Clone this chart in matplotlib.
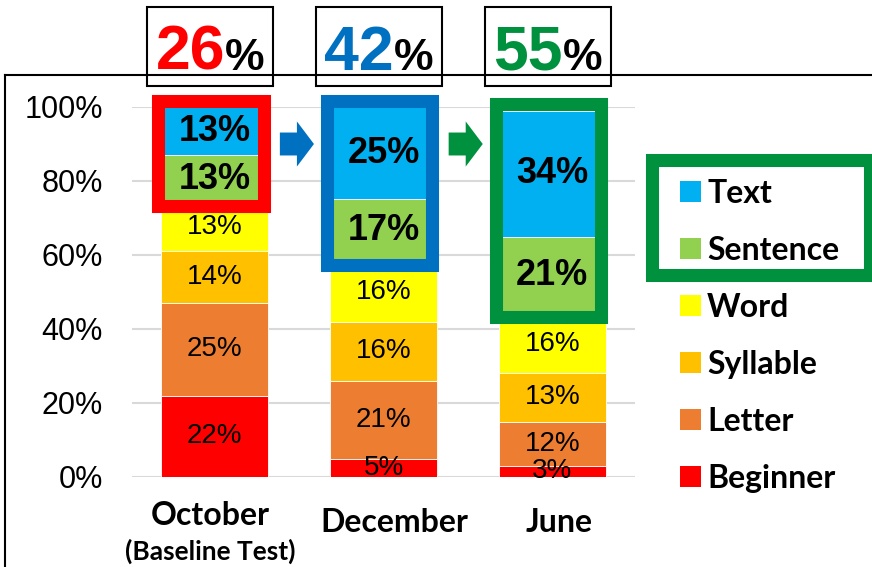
import numpy as np
import matplotlib.pyplot as plt
from matplotlib.patches import Rectangle, Polygon
from matplotlib.lines import Line2D
from matplotlib.font_manager import FontProperties

months = ['October', 'December', 'June']
sub_label = '(Baseline Test)'
levels = ['Beginner', 'Letter', 'Syllable', 'Word', 'Sentence', 'Text']
beginner = [22, 5, 3]
letter = [25, 21, 12]
syllable = [14, 16, 13]
word = [13, 16, 16]
sentence = [13, 17, 21]
text = [13, 25, 34]
top_two = [26, 42, 55]
yticks = [0, 20, 40, 60, 80, 100]

colors = ['#FF0000', '#ED7D31', '#FFC000', '#FFFF00', '#92D050', '#00B0F0']
hl_colors = ['#FF0000', '#0070C0', '#00913F']

W, H = 872, 567
fig = plt.figure(figsize=(W / 100, H / 100), dpi=100)
ax = fig.add_axes([132 / W, 90 / H, 503 / W, 370 / H])

arial = 'Liberation Sans'
calibri = 'Lato'

x = np.arange(len(months))
series = [beginner, letter, syllable, word, sentence, text]
bottom = np.zeros(len(months))
bars = []
for i, vals in enumerate(series):
    v = np.array(vals) / 100
    b = ax.bar(x, v, 0.635, bottom=bottom, color=colors[i], edgecolor='white',
               lw=0.6, label=levels[i], zorder=2)
    bars.append(b)
    bold = i >= 4
    for xi, vi, bi in zip(x, v, bottom):
        ax.text(xi, bi + vi / 2, f'{round(vi * 100)}%', ha='center', va='center',
                fontsize=26 if bold else 20, fontweight='bold' if bold else 'normal',
                family=arial, zorder=6)
    bottom = bottom + v

# highlight frames round the two top levels
dy = 6.5 / 370
for xi in x:
    top = bottom[xi]
    low = top - (text[xi] + sentence[xi]) / 100
    ax.add_patch(Rectangle((xi - 0.335, low + 0.01 - dy), 0.625, top - low - 0.01 + 2 * dy,
                           fill=False, ec=hl_colors[xi], lw=9.4, joinstyle='miter',
                           zorder=4, clip_on=False))

# arrows between the bars
for xi in x[:-1]:
    x0, xm, x1 = xi + 0.386, xi + 0.487, xi + 0.588
    yc, sh, hh = 0.90, 0.031, 0.061
    pts = [(x0, yc - sh), (xm, yc - sh), (xm, yc - hh), (x1, yc),
           (xm, yc + hh), (xm, yc + sh), (x0, yc + sh)]
    ax.add_patch(Polygon(pts, closed=True, color=hl_colors[xi + 1], lw=0, zorder=4,
                         clip_on=False))

# boxes with the top-two share
for xi in x:
    ax.add_patch(Rectangle((xi - 0.40, 1.057), 0.745, 0.214, fc='white', ec='black',
                           lw=1.5, zorder=7, clip_on=False))
    split = xi + 0.062
    ax.text(split, 1.10, str(top_two[xi]), ha='right', va='baseline', fontsize=45,
            fontweight='bold', color=hl_colors[xi], family=arial, zorder=8, clip_on=False)
    ax.text(split, 1.10, '%', ha='left', va='baseline', fontsize=32,
            fontweight='bold', color='black', family=arial, zorder=8, clip_on=False)

# outer frame of the chart area
fig.add_artist(Line2D([5 / W, 5 / W], [0, 1 - 75 / H], color='black', lw=1.5))
fig.add_artist(Line2D([5 / W, 1], [1 - 75 / H, 1 - 75 / H], color='black', lw=1.5))

ax.set_ylim(0, 1)
ax.set_xlim(-0.49, 2.49)
ax.set_yticks(np.array(yticks) / 100)
ax.set_yticklabels([f'{t}%' for t in yticks], family=arial, fontsize=22)
ax.tick_params(axis='y', length=0, pad=21)
ax.set_xticks([])
ax.grid(axis='y', color='#d9d9d9', lw=1.5, zorder=0)
ax.set_axisbelow(True)
for s in ax.spines.values():
    s.set_visible(False)

# month labels
offs = [-0.024, 0.065, 0.04]
ys = [-0.103, -0.122, -0.122]
tr = ax.get_xaxis_transform()
for xi, m in enumerate(months):
    ax.text(xi + offs[xi], ys[xi], m, transform=tr, ha='center', va='center',
            fontsize=23, fontweight='bold', family=calibri, clip_on=False)
ax.text(offs[0], -0.2, sub_label, transform=tr, ha='center', va='center',
        fontsize=19, fontweight='bold', family=calibri, clip_on=False)

# legend
leg = ax.legend(bars[::-1], levels[::-1], loc='upper left',
                bbox_to_anchor=(680 / W, 1 - 179 / H), bbox_transform=fig.transFigure,
                frameon=False, prop=FontProperties(family=calibri, weight='bold', size=23),
                handlelength=0.65, handleheight=0.65, handletextpad=0.2, labelspacing=0.875,
                borderpad=0, borderaxespad=0)
for h in leg.legend_handles:
    h.set_edgecolor('none')
fig.add_artist(Rectangle((651.5 / W, 1 - 275 / H), 218 / W, 115.5 / H, fill=False,
                         ec=hl_colors[2], lw=9.4, joinstyle='miter',
                         transform=fig.transFigure))

fig.savefig('out.png', dpi=100)
